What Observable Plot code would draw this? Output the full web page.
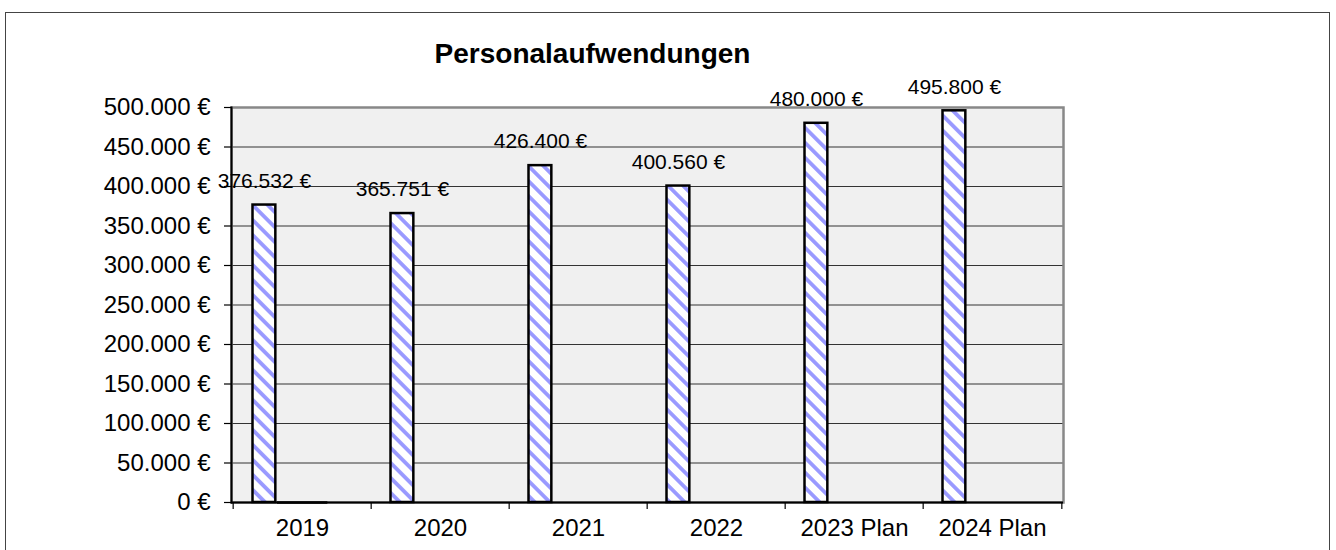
<!DOCTYPE html>
<html>
<head>
<meta charset="utf-8">
<script src="https://cdn.jsdelivr.net/npm/d3@7"></script>
<script src="https://cdn.jsdelivr.net/npm/@observablehq/plot@0.6"></script>
<style>
  html, body { margin: 0; padding: 0; background: #fff; }
  #wrap { position: relative; width: 1336px; height: 550px; overflow: hidden; font-family: "Liberation Sans", Arial, sans-serif; }
  #border { position: absolute; left: 5px; top: 12px; width: 1325px; height: 600px; border: 1.5px solid #444; box-sizing: border-box; }
  #chart { position: absolute; left: 0; top: 0; }
</style>
</head>
<body>
<div id="wrap"><div id="border"></div><div id="chart"></div></div>
<script>
const title = "Personalaufwendungen";
const categories = ["2019", "2020", "2021", "2022", "2023 Plan", "2024 Plan"];
const values = [376532, 365751, 426400, 400560, 480000, 495800];
const zeroSeriesCategories = ["2019"];
const zeroSeriesValues = [0];
const yTicks = [0, 50000, 100000, 150000, 200000, 250000, 300000, 350000, 400000, 450000, 500000];

const data = categories.map((c, i) => ({cat: c, value: values[i]}));
const zeroData = zeroSeriesCategories.map((c, i) => ({cat: c, value: zeroSeriesValues[i]}));

const de = d3.formatLocale({decimal: ",", thousands: ".", grouping: [3], currency: ["", ""]});
const num = de.format(",.0f");
const fmt = v => num(v) + " €";

const W = 1336, H = 550, mL = 231, mR = 273, mT = 107, mB = 48;
const bw = (W - mL - mR) / categories.length;
const barL = 19.5, barR = 43;

const svg = Plot.plot({
  width: W, height: H,
  marginLeft: mL, marginRight: mR, marginTop: mT, marginBottom: mB,
  style: {fontFamily: '"Liberation Sans", Arial, sans-serif', background: "transparent", color: "black"},
  x: {domain: categories, padding: 0, label: null},
  y: {domain: [0, 500000], label: null},
  marks: [
    Plot.frame({fill: "#f0f0f0", stroke: null}),
    Plot.gridY(yTicks.filter(v => v > 0 && v < 500000), {stroke: "#333", strokeOpacity: 1, strokeWidth: 1.2}),
    Plot.frame({stroke: "#888", strokeWidth: 2.5}),
    Plot.frame({anchor: "left", stroke: "black", strokeWidth: 2}),
    Plot.ruleY([0], {stroke: "black", strokeWidth: 2}),
    Plot.axisY(yTicks, {tickFormat: fmt, fontSize: 24, tickSize: 7, tickPadding: 14, label: null, stroke: "black", strokeWidth: 1.2}),
    Plot.axisX({tickSize: 0, tickPadding: 16, fontSize: 24, label: null}),
    Plot.axisX(categories, {text: null, tickSize: 7, dx: -bw / 2, label: null, stroke: "black", strokeWidth: 1.2}),
    Plot.axisX([categories[categories.length - 1]], {text: null, tickSize: 7, dx: bw / 2, label: null, stroke: "black", strokeWidth: 1.2}),
    Plot.barY(data, {x: "cat", y: "value", fill: "url(#stripes)", stroke: "black", strokeWidth: 2.5, insetLeft: barL, insetRight: bw - barR}),
    Plot.tickY(zeroData, {x: "cat", y: "value", stroke: "black", strokeWidth: 2.5, insetLeft: barR + 1, insetRight: bw - 95}),
    Plot.text(data, {x: "cat", y: "value", text: d => fmt(d.value), dx: (barL + barR) / 2 - bw / 2, dy: -24, fontSize: 21, lineAnchor: "middle", fill: "black"}),
    Plot.text([title], {frameAnchor: "top", dx: -55, dy: -53, fontSize: 28, fontWeight: "bold", lineAnchor: "middle", fill: "black"})
  ]
});

const defs = d3.select(svg).insert("defs", ":first-child");
const p = defs.append("pattern").attr("id", "stripes").attr("patternUnits", "userSpaceOnUse")
  .attr("width", 10.6).attr("height", 10.6).attr("patternTransform", "rotate(-45)");
p.append("rect").attr("width", 10.6).attr("height", 10.6).attr("fill", "white");
p.append("rect").attr("width", 3.8).attr("height", 10.6).attr("fill", "#9999ff");

document.getElementById("chart").appendChild(svg);
</script>
</body>
</html>
